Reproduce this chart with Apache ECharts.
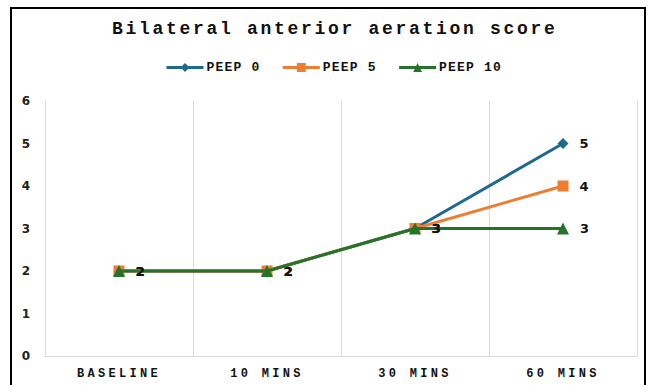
<!DOCTYPE html>
<html>
<head>
<meta charset="utf-8">
<script src="https://cdn.jsdelivr.net/npm/echarts@6/dist/echarts.min.js"></script>
<style>
html,body{margin:0;padding:0;background:#fff;}
#c{width:650px;height:385px;}
#c text[style*="tmono"]{letter-spacing:2.7px;}
#c text[style*="xmono"]{letter-spacing:3.3px;}
#c text[style*="lmono"]{letter-spacing:1.2px;}
</style>
</head>
<body>
<div id="c"></div>
<script>
const categories = ['BASELINE', '10 MINS', '30 MINS', '60 MINS'];
const seriesNames = ['PEEP 0', 'PEEP 5', 'PEEP 10'];
const peep0 = [2, 2, 3, 5];
const peep5 = [2, 2, 3, 4];
const peep10 = [2, 2, 3, 3];
const yTicks = [0, 1, 2, 3, 4, 5, 6];

const colors = ['#1F6A8C', '#ED7D31', '#23742A'];
const symbols = ['diamond', 'rect', 'triangle'];
const symbolSizes = [11, 11, 12];
const dataSets = [peep0, peep5, peep10];

const chart = echarts.init(document.getElementById('c'), null, {renderer: 'svg'});
chart.setOption({
  animation: false,
  backgroundColor: '#fff',
  title: {
    text: 'Bilateral anterior aeration score',
    left: 107,
    top: 15,
    textStyle: {fontFamily: "'Liberation Mono', tmono, monospace", fontWeight: 'bold', fontSize: 18, color: '#111'}
  },
  legend: {
    top: 56,
    left: 160,
    itemWidth: 37,
    itemHeight: 11,
    itemGap: 28,
    lineStyle: {width: 3},
    textStyle: {fontFamily: "'Liberation Mono', lmono, monospace", fontWeight: 'bold', fontSize: 13, color: '#111', padding: [0,0,0,-2]},
    data: seriesNames
  },
  grid: {left: 45, right: 13, top: 101, bottom: 29, containLabel: false},
  xAxis: {
    type: 'category',
    data: categories,
    boundaryGap: true,
    axisLine: {lineStyle: {color: '#d9d9d9', width: 1}},
    axisTick: {show: false},
    splitLine: {show: true, interval: 0, lineStyle: {color: '#d9d9d9', width: 1}},
    axisLabel: {fontFamily: "'Liberation Mono', xmono, monospace", fontWeight: 'bold', fontSize: 12, color: '#111', margin: 12, interval: 0}
  },
  yAxis: {
    type: 'value',
    min: yTicks[0],
    max: yTicks[yTicks.length - 1],
    interval: 1,
    axisLine: {show: false},
    axisTick: {show: false},
    splitLine: {show: false},
    axisLabel: {fontFamily: "'DejaVu Sans', sans-serif", fontWeight: 'bold', fontSize: 12, color: '#222', margin: 15}
  },
  graphic: [{
    type: 'rect',
    shape: {x: 11, y: 8, width: 634, height: 400},
    style: {fill: 'none', stroke: '#000', lineWidth: 2},
    silent: true,
    z: 100
  }],
  series: dataSets.map((d, i) => ({
    name: seriesNames[i],
    type: 'line',
    data: d,
    symbol: symbols[i],
    symbolSize: symbolSizes[i],
    showAllSymbol: true,
    lineStyle: {color: colors[i], width: 3},
    itemStyle: {color: colors[i]},
    label: {
      show: true,
      position: 'right',
      distance: 11,
      fontFamily: "'DejaVu Sans', sans-serif",
      fontWeight: 'bold',
      fontSize: 13,
      color: '#111'
    },
    z: 2 + i
  }))
});
</script>
</body>
</html>
